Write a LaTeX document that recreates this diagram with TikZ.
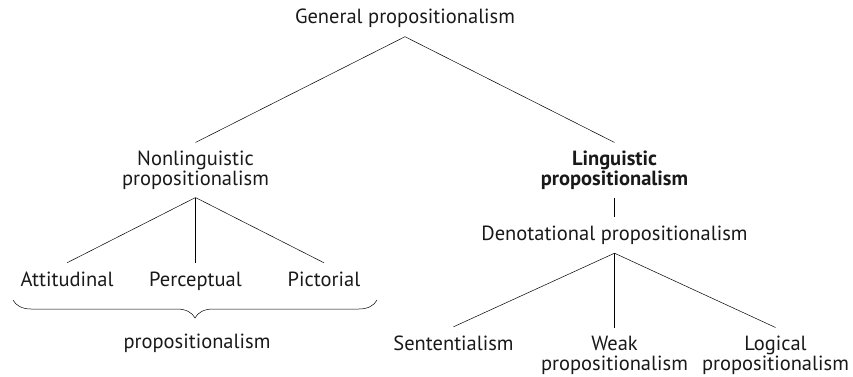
\documentclass[tikz,border=0pt]{standalone}
\usepackage{fontspec}
\setmainfont{PT Sans}
\usetikzlibrary{decorations.pathreplacing}

\begin{document}
\begin{tikzpicture}[x=1pt,y=-1pt,
    term/.style={align=center,inner xsep=0pt,inner ysep=8pt,text=black!90,
      font=\fontsize{20.5}{20}\selectfont},
    oneline/.style={text height=15pt,text depth=5pt},
    mainterm/.style={term,font=\fontsize{20.5}{20}\selectfont\bfseries},
    every node/.style={term},
    parent anchor=south,child anchor=north,
    edge from parent/.style={draw,line width=0.5pt},
    level 1/.style={level distance=151.5pt,sibling distance=419pt},
    level 2/.style={level distance=111pt,sibling distance=128.5pt},
    level 3/.style={level distance=110pt,sibling distance=161pt}]
  \useasboundingbox (0,0) rectangle (853,377);
      \node[oneline] (gen) at (405,18.5) {General propositionalism}
        child {
          node (nonling) {Nonlinguistic\\propositionalism}
          child { node[oneline] (att) {Attitudinal} }
          child { node[oneline] (perc) {Perceptual} }
          child { node[oneline] (pict) {Pictorial} }
        }
        child {
          node[mainterm] (ling) {Linguistic\\propositionalism}
          child[level distance=65pt] {
            node[oneline] (denot) {Denotational propositionalism}
            child { node[oneline] (sent) {Sententialism} }
            child[level distance=120pt] { node (weak) {Weak\\propositionalism} }
            child[level distance=120pt] { node (logic) {Logical\\propositionalism} }
          }
        };
      % brace under the three kinds
      \coordinate (bl) at (13,300);
      \coordinate (br) at (377,300);
      \draw[decorate,decoration={brace,mirror,amplitude=18pt},line width=0.5pt] (bl) -- (br);
      \node[oneline] (kinds) at (197,343) {propositionalism};
    \end{tikzpicture}
\end{document}
